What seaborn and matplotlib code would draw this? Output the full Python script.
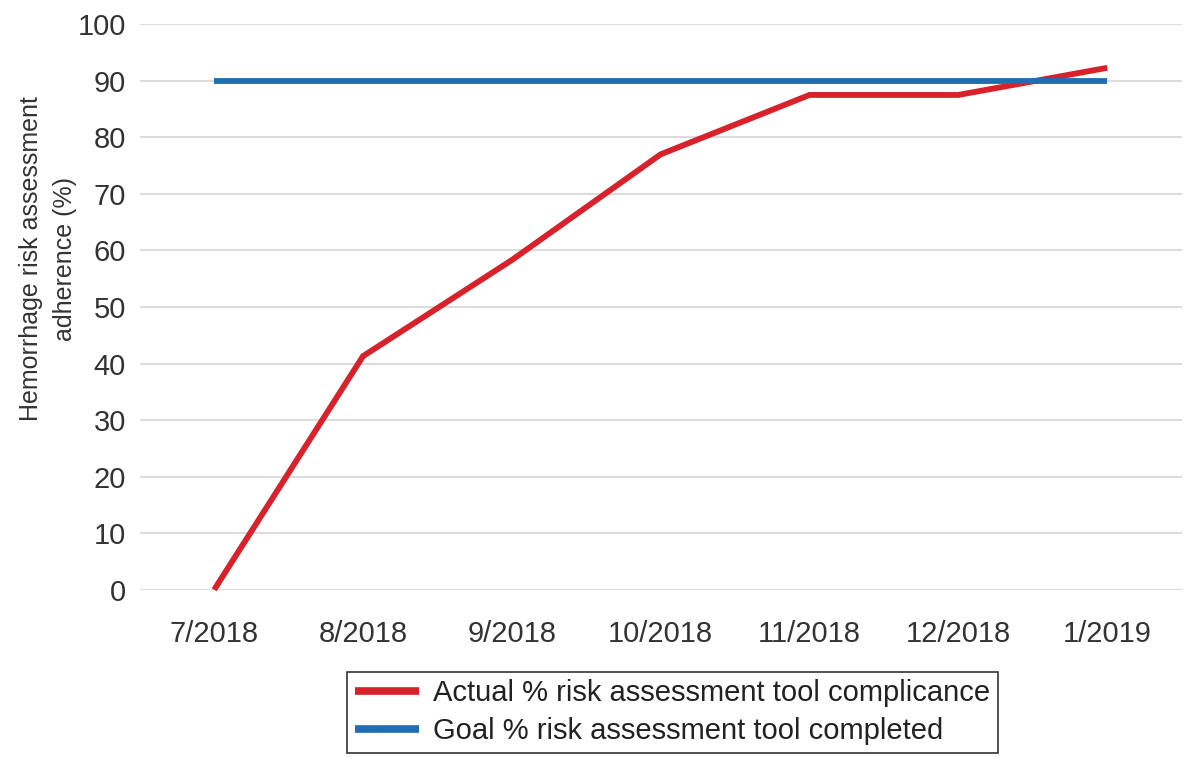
import matplotlib
matplotlib.use("Agg")
import matplotlib.pyplot as plt
import pandas as pd
import seaborn as sns

months = ["7/2018", "8/2018", "9/2018", "10/2018", "11/2018", "12/2018", "1/2019"]
actual = [0, 41.3, 58.3, 77, 87.5, 87.5, 92.3]
goal = [90, 90, 90, 90, 90, 90, 90]

df = pd.DataFrame({
    "month": months * 2,
    "value": actual + goal,
    "series": ["Actual % risk assessment tool complicance"] * len(months)
              + ["Goal % risk assessment tool completed"] * len(months),
})

sns.set_style("white")
plt.rcParams['font.family'] = ['Liberation Sans', 'DejaVu Sans']

fig = plt.figure(figsize=(11.84, 7.58), dpi=100)
ax = fig.add_axes([0.118, 0.222, 0.88, 0.746])

palette = {"Actual % risk assessment tool complicance": "#d9212b",
           "Goal % risk assessment tool completed": "#1f6db3"}
sns.lineplot(data=df, x="month", y="value", hue="series", palette=palette,
             linewidth=4.2, ax=ax, sort=False, clip_on=False)
for ln in ax.lines:
    ln.set_solid_capstyle("butt")

ax.set_ylim(0, 100)
ax.set_xlim(-0.5, 6.5)
ax.set_yticks(range(0, 101, 10))
ax.yaxis.grid(True, color="#dcdcdc", linewidth=1.5)
ax.set_axisbelow(True)
for s in ax.spines.values():
    s.set_visible(False)
ax.tick_params(axis="both", labelsize=21, colors="#333333", length=0)
ax.tick_params(axis="x", pad=22)
ax.tick_params(axis="y", pad=10)
ax.set_xlabel("")
ax.set_ylabel("Hemorrhage risk assessment\nadherence (%)", fontsize=18,
              color="#333333", linespacing=1.55)
ax.yaxis.set_label_coords(-0.06, 0.585)

handles, labels = ax.get_legend_handles_labels()
ax.legend_.remove()
for h in handles:
    h.set_linewidth(5.5)
    h.set_solid_capstyle("butt")
leg = fig.legend(handles, labels, loc="lower center", bbox_to_anchor=(0.568, 0.007),
                 fontsize=21, frameon=True, fancybox=False, edgecolor="black",
                 handlelength=2.2, handletextpad=0.5, borderpad=0.25,
                 labelspacing=0.35, borderaxespad=0.0, labelcolor="#222222")
leg.get_frame().set_linewidth(1.2)

fig.savefig("out.png", dpi=100)
plt.close(fig)
